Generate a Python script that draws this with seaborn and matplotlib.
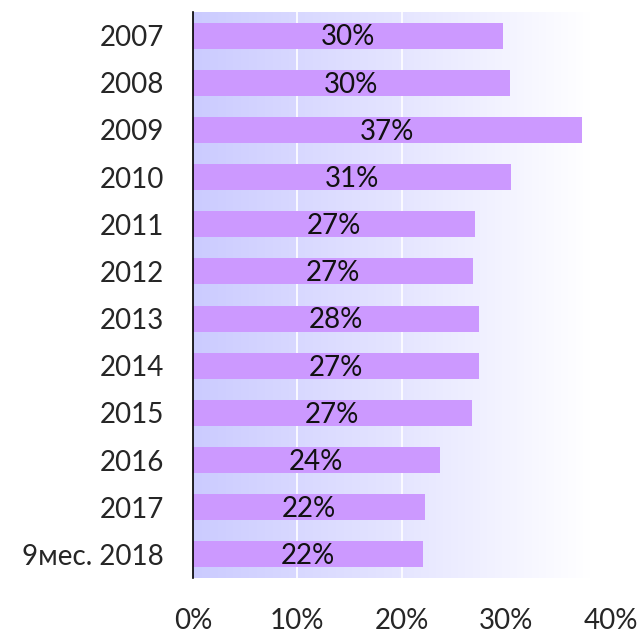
import numpy as np
import pandas as pd
import matplotlib
matplotlib.use("Agg")
import matplotlib.pyplot as plt
from matplotlib.colors import LinearSegmentedColormap
import seaborn as sns

# Данные
periods = ["2007", "2008", "2009", "2010", "2011", "2012", "2013", "2014",
           "2015", "2016", "2017", "9мес. 2018"]
shares = [29.7, 30.3, 37.2, 30.4, 27.0, 26.8, 27.4, 27.4, 26.7, 23.6, 22.2, 22.0]
labels = ["30%", "30%", "37%", "31%", "27%", "27%", "28%", "27%",
          "27%", "24%", "22%", "22%"]
xticks = [0, 10, 20, 30, 40]

df = pd.DataFrame({"period": periods, "share": shares})

sns.set_style("white")
plt.rcParams["font.family"] = ["Lato", "DejaVu Sans"]

fig = plt.figure(figsize=(6.41, 6.33), dpi=100)
ax = fig.add_axes([0.301, 0.087, 0.652, 0.894])

# фон с градиентом
grad = np.linspace(0, 1, 256).reshape(1, -1)
cmap = LinearSegmentedColormap.from_list("bg", ["#cbcbff", "#e4e4ff", "#ffffff"])
ax.imshow(grad, extent=[0, 0.95, 0, 1], transform=ax.transAxes, aspect="auto",
          cmap=cmap, zorder=0)

sns.barplot(data=df, x="share", y="period", orient="h", color="#cc99ff",
            saturation=1, width=0.55, linewidth=0, ax=ax, zorder=3)

for i, (v, lab) in enumerate(zip(shares, labels)):
    ax.text(v / 2, i + 0.04, lab, ha="center", va="center", fontsize=20,
            color="#111111", zorder=4)

ax.set_xlim(0, 40)
ax.set_ylim(11.5, -0.5)
ax.set_xticks(xticks)
ax.set_xticklabels([f"{t}%" for t in xticks], fontsize=20)
ax.tick_params(axis="x", length=0, pad=22)
ax.tick_params(axis="y", length=0, pad=21, labelsize=20)
for t in xticks[1:3]:
    ax.axvline(t, color="white", lw=1.2, zorder=1)

ax.set_xlabel("")
ax.set_ylabel("")
for s in ["top", "right", "bottom"]:
    ax.spines[s].set_visible(False)
ax.spines["left"].set_color("black")
ax.spines["left"].set_linewidth(1.2)
ax.spines["left"].set_zorder(5)

fig.savefig("out.png", dpi=100)
